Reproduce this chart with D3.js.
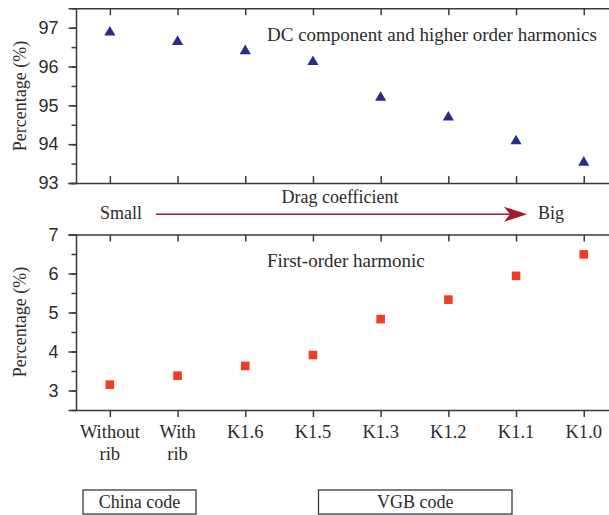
<!DOCTYPE html>
<html>
<head>
<meta charset="utf-8">
<script src="https://cdn.jsdelivr.net/npm/d3@7"></script>
<style>
  body { margin: 0; background: #fff; }
  svg { display: block; font-family: "Liberation Serif", "DejaVu Serif", serif; }
</style>
</head>
<body>
<svg></svg>
<script>
const width = 609
const height = 515

// data
const categories = ["Without\nrib", "With\nrib", "K1.6", "K1.5", "K1.3", "K1.2", "K1.1", "K1.0"]
const dcValues = [96.88, 96.64, 96.40, 96.12, 95.20, 94.69, 94.08, 93.53]
const firstValues = [3.15, 3.38, 3.63, 3.91, 4.83, 5.33, 5.94, 6.49]
const dcTicks = [93, 94, 95, 96, 97]
const firstTicks = [3, 4, 5, 6, 7]

const ink = '#2b2b2b'
const axisColor = '#3a3a3a'

const svg = d3.select('svg').attr('width', width).attr('height', height)

const x = d3.scalePoint().domain(categories).range([76, 617.6]).padding(0.5)
const yTop = d3.scaleLinear().domain([93, 97.5]).range([183, 8.3])
const yBot = d3.scaleLinear().domain([2.5, 7]).range([410, 234.5])

function halfTicks(lo, hi) {
    const t = []
    for (let v = lo; v <= hi + 1e-9; v += 0.5) t.push(v)
    return t
}

// draw one panel frame: left axis, top line and bottom line with ticks
function panel(y, ticks, xTickDir) {
    const g = svg.append('g')
    const [d0, d1] = y.domain()

    // minor ticks on the left
    g.append('g').attr('transform', 'translate(76,0)')
        .call(d3.axisLeft(y).tickValues(halfTicks(d0, d1)).tickSize(4.5).tickFormat(''))
        .call(a => a.select('.domain').remove())
    // major ticks + labels
    g.append('g').attr('transform', 'translate(76,0)')
        .call(d3.axisLeft(y).tickValues(ticks).tickSize(7.5).tickPadding(10).tickFormat(d3.format('d')))
        .call(a => a.selectAll('text').attr('font-size', 18).attr('fill', ink).attr('font-family', null))

    // top line, ticks inward
    g.append('g').attr('transform', `translate(0,${y.range()[1]})`)
        .call(d3.axisBottom(x).tickSize(7).tickSizeOuter(0).tickFormat(''))
    // bottom line
    g.append('g').attr('transform', `translate(0,${y.range()[0]})`)
        .call(d3.axisBottom(x).tickSize(xTickDir * 7).tickSizeOuter(0).tickFormat(''))

    g.selectAll('.domain').attr('stroke', axisColor).attr('stroke-width', 1.5)
    g.selectAll('.tick line').attr('stroke', axisColor).attr('stroke-width', 1.5)
    return g
}

panel(yTop, dcTicks, -1)
panel(yBot, firstTicks, 1)

// x tick labels (two lines for the first two)
svg.append('g').selectAll('text').data(categories).enter().append('text')
    .attr('x', d => x(d))
    .attr('y', 438)
    .attr('text-anchor', 'middle')
    .attr('font-size', 18.5)
    .attr('fill', ink)
    .each(function (d) {
        const lines = d.split('\n')
        d3.select(this).selectAll('tspan').data(lines).enter().append('tspan')
            .attr('x', x(d))
            .attr('dy', (l, i) => i === 0 ? 0 : 21.5)
            .text(l => l)
    })

// y labels
function yLabel(cy) {
    svg.append('text')
        .attr('transform', `translate(26,${cy}) rotate(-90)`)
        .attr('text-anchor', 'middle')
        .attr('font-size', 18)
        .attr('fill', ink)
        .text('Percentage (%)')
}
yLabel(96)
yLabel(322)

// markers
svg.append('g').selectAll('path').data(dcValues).enter().append('path')
    .attr('d', d3.symbol().type(d3.symbolTriangle).size(54))
    .attr('transform', (d, i) => `translate(${x(categories[i])},${yTop(d)})`)
    .attr('fill', '#2d2a8e')

svg.append('g').selectAll('path').data(firstValues).enter().append('path')
    .attr('d', d3.symbol().type(d3.symbolSquare).size(74))
    .attr('transform', (d, i) => `translate(${x(categories[i])},${yBot(d)})`)
    .attr('fill', '#ef3e24')

// panel titles
svg.append('text').attr('x', 267).attr('y', 41).attr('font-size', 19).attr('fill', ink)
    .text('DC component and higher order harmonics')
svg.append('text').attr('x', 267).attr('y', 267).attr('font-size', 19).attr('fill', ink)
    .text('First-order harmonic')

// drag coefficient arrow
svg.append('text').attr('x', 340).attr('y', 203).attr('text-anchor', 'middle')
    .attr('font-size', 18).attr('fill', ink).text('Drag coefficient')
svg.append('text').attr('x', 100).attr('y', 219).attr('font-size', 18).attr('fill', ink).text('Small')
svg.append('text').attr('x', 538).attr('y', 219).attr('font-size', 18).attr('fill', ink).text('Big')

const arrowColor = '#a3182e'
svg.append('line').attr('x1', 156).attr('x2', 510).attr('y1', 214.3).attr('y2', 214.3)
    .attr('stroke', arrowColor).attr('stroke-width', 1.4)
svg.append('path')
    .attr('d', 'M527,214.3 L504,206.8 L510,214.3 L504,221.8 Z')
    .attr('fill', arrowColor)

// code boxes
const boxes = [
    {label: 'China code', x0: 83, x1: 196},
    {label: 'VGB code', x0: 318.5, x1: 512}
]
const bx = svg.append('g').selectAll('g').data(boxes).enter().append('g')
bx.append('rect')
    .attr('x', d => d.x0).attr('y', 490)
    .attr('width', d => d.x1 - d.x0).attr('height', 24)
    .attr('fill', 'none').attr('stroke', axisColor).attr('stroke-width', 1.3)
bx.append('text')
    .attr('x', d => (d.x0 + d.x1) / 2).attr('y', 507.5)
    .attr('text-anchor', 'middle').attr('font-size', 18).attr('fill', ink)
    .text(d => d.label)
</script>
</body>
</html>
